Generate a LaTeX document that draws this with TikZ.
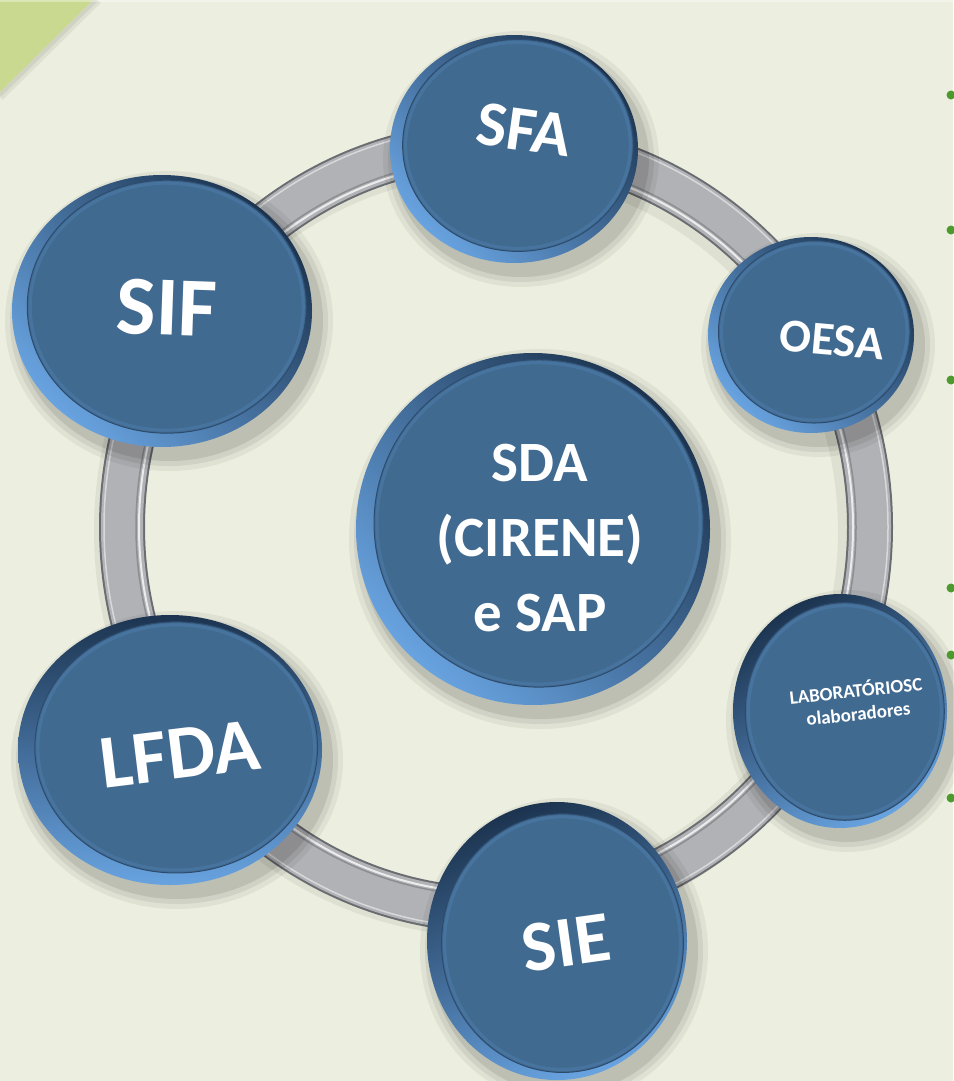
\documentclass[tikz,border=0pt]{standalone}
\usepackage{fontspec}
\setmainfont{Carlito}
\usetikzlibrary{calc}
\definecolor{bg}{RGB}{236,239,223}
\definecolor{tri}{RGB}{201,218,144}
\definecolor{facec}{RGB}{65,106,145}
\definecolor{rimlight}{RGB}{104,163,224}
\definecolor{rimmid}{RGB}{80,134,192}
\definecolor{rimdark}{RGB}{28,52,80}
\definecolor{ringgray}{RGB}{176,178,181}
\definecolor{ringdark}{RGB}{105,108,112}
\definecolor{bulletc}{RGB}{76,154,46}
\tikzset{
  lbl/.style={text=white, align=center, inner sep=0pt},
  dot/.style={circle, fill=bulletc, inner sep=0pt, minimum size=9pt},
}
% #1 name, #2 cx, #3 cy, #4 rx, #5 ry, #6 face offset angle, #7 shading angle
\newcommand{\diskdraw}[7]{%
  \foreach \s/\o in {14/0.05,9/0.07,4/0.09}{%
    \fill[black,opacity=\o] (#2+7,#3+10) ellipse [x radius={(#4+\s)*1pt}, y radius={(#5+\s)*1pt}];}
  \coordinate (#1) at (#2,#3);
  \shade[top color=rimdark, middle color=rimmid, bottom color=rimlight, shading angle=#7]
    (#1) ellipse [x radius={#4*1pt}, y radius={#5*1pt}];
  \coordinate (#1f) at ({#2+0.045*#4*cos(#6)},{#3-0.045*#5*sin(#6)});
  \fill[facec, draw=rimdark!55!facec, line width=1pt] (#1f) ellipse [x radius={0.93*#4*1pt}, y radius={0.93*#5*1pt}];
  \draw[rimlight!60!facec, opacity=0.3, line width=3pt] (#1f) ellipse [x radius={(0.93*#4-3)*1pt}, y radius={(0.93*#5-3)*1pt}];
}
\begin{document}
\begin{tikzpicture}[x=1pt,y=-1pt]
\useasboundingbox (0,0) rectangle (953,1081);
\fill[bg] (0,0) rectangle (953,1081);
% corner triangle
\draw[black, opacity=0.06, line width=8pt] (98,0) -- (0,97);
\draw[black, opacity=0.06, line width=4pt] (96,0) -- (0,95);
\fill[tri] (0,0) -- (93,0) -- (0,92) -- cycle;
\fill[white, opacity=0.35] (0,0) rectangle (953,2);
% ring
\coordinate (rc) at (496,527);
\draw[black, opacity=0.06, line width=50pt] ($(rc)+(-5,4)$) ellipse [x radius=372pt, y radius=381pt];
\draw[ringdark, line width=46pt] (rc) ellipse [x radius=374pt, y radius=383pt];
\draw[ringgray, line width=42pt] (rc) ellipse [x radius=374pt, y radius=383pt];
\draw[white, opacity=0.75, line width=2pt] (rc) ellipse [x radius=357pt, y radius=366pt];
\draw[ringdark, opacity=0.5, line width=1.5pt] (rc) ellipse [x radius=360pt, y radius=369pt];
\draw[white, opacity=0.5, line width=1.5pt] (rc) ellipse [x radius=392pt, y radius=401pt];
% disks
\diskdraw{sfa}{514}{149}{124}{114}{45}{-45}
\diskdraw{sif}{162}{311}{150}{136}{45}{-45}
\diskdraw{oesa}{811}{335}{103}{98}{45}{-45}
\diskdraw{sda}{533}{529}{177}{176}{45}{-45}
\diskdraw{lab}{840}{711}{107}{117}{-5}{30}
\diskdraw{lfda}{170}{750}{152}{135}{25}{0}
\diskdraw{sie}{557}{941}{130}{139}{-20}{20}
% labels
\node[lbl, font=\fontsize{64}{70}\selectfont\bfseries, rotate=-8] (sfat) at (524,130) {SFA};
\node[lbl, font=\fontsize{84}{90}\selectfont\bfseries, rotate=-2] (sift) at (167,308) {SIF};
\node[lbl, font=\fontsize{47}{52}\selectfont\bfseries, rotate=-5] (oesat) at (832,340) {OESA};
\node[lbl, font=\fontsize{57}{75}\selectfont\bfseries] (sdat) at (540,538) {SDA\\(CIRENE)\\e SAP};
\node[lbl, font=\fontsize{19}{23}\selectfont\bfseries, rotate=6] (labt) at (857,701) {LABORATÓRIOSC\\olaboradores};
\node[lbl, font=\fontsize{76}{80}\selectfont\bfseries, rotate=7] (lfdat) at (180,754) {LFDA};
\node[lbl, font=\fontsize{72}{78}\selectfont\bfseries, rotate=8] (siet) at (566,943) {SIE};
% bullets
\node[dot] (b1) at (951,95) {};
\node[dot] (b2) at (951,230) {};
\node[dot] (b3) at (951,380) {};
\node[dot] (b4) at (951,588) {};
\node[dot] (b5) at (951,655) {};
\node[dot] (b6) at (951,798) {};
\end{tikzpicture}
\end{document}
